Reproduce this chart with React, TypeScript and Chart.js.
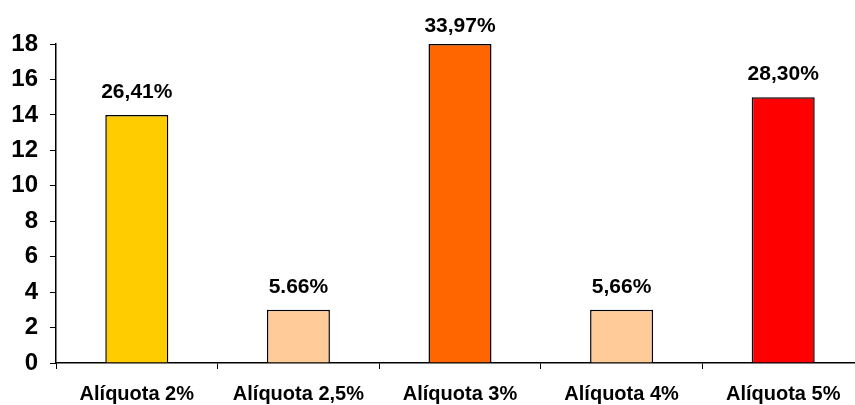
import React, { useEffect, useRef } from "react";
import Chart from "chart.js/auto";

const categories = ["Alíquota 2%", "Alíquota 2,5%", "Alíquota 3%", "Alíquota 4%", "Alíquota 5%"];
const values = [14, 3, 18, 3, 15];
const valueLabels = ["26,41%", "5.66%", "33,97%", "5,66%", "28,30%"];
const barColors = ["#FFCC00", "#FFCC99", "#FF6600", "#FFCC99", "#FF0000"];
const yTicks = [0, 2, 4, 6, 8, 10, 12, 14, 16, 18];

const FONT = "'Liberation Sans', Arial, sans-serif";

const labelPlugin = {
  id: "barLabels",
  afterDatasetsDraw(chart: any) {
    const ctx = chart.ctx;
    const meta = chart.getDatasetMeta(0);
    ctx.save();
    ctx.font = `bold 21px ${FONT}`;
    ctx.fillStyle = "#000";
    ctx.textAlign = "center";
    ctx.textBaseline = "alphabetic";
    meta.data.forEach((el: any, i: number) => {
      ctx.fillText(valueLabels[i], el.x, Math.max(el.y - 17, 32));
    });
    ctx.restore();
  },
};

export default function App() {
  const ref = useRef<HTMLCanvasElement>(null);
  useEffect(() => {
    if (!ref.current) return;
    const chart = new Chart(ref.current, {
      type: "bar",
      data: {
        labels: categories,
        datasets: [
          {
            data: values,
            backgroundColor: barColors,
            borderColor: "#000",
            borderWidth: 1.5,
            barPercentage: 0.39,
            categoryPercentage: 1,
          },
        ],
      },
      options: {
        responsive: false,
        animation: false,
        layout: { padding: { top: 44, right: 2, left: 0, bottom: 0 } },
        plugins: { legend: { display: false }, tooltip: { enabled: false } },
        scales: {
          x: {
            offset: true,
            grid: { display: true, drawOnChartArea: false, offset: true, tickLength: 6, color: "#000", lineWidth: 1 },
            border: { color: "#000", width: 1.5 },
            ticks: { color: "#000", font: { family: FONT, size: 20, weight: "bold" }, padding: 13, maxRotation: 0 },
            afterFit: (s: any) => { s.height = 42; },
          },
          y: {
            min: 0,
            max: 18,
            afterBuildTicks: (s: any) => { s.ticks = yTicks.map((v) => ({ value: v })); },
            grid: { display: true, drawOnChartArea: false, tickLength: 6, color: "#000", lineWidth: 1 },
            border: { color: "#000", width: 1.5 },
            ticks: { color: "#000", font: { family: FONT, size: 24, weight: "bold" }, padding: 12 },
            afterFit: (s: any) => { s.width = 56; },
          },
        },
      },
      plugins: [labelPlugin],
    });
    return () => chart.destroy();
  }, []);
  return (
    <div style={{ position: "fixed", left: 0, top: 0, width: 855, height: 405, overflow: "hidden", background: "#fff" }}>
      <canvas ref={ref} width={866} height={405} style={{ display: "block" }} />
    </div>
  );
}
